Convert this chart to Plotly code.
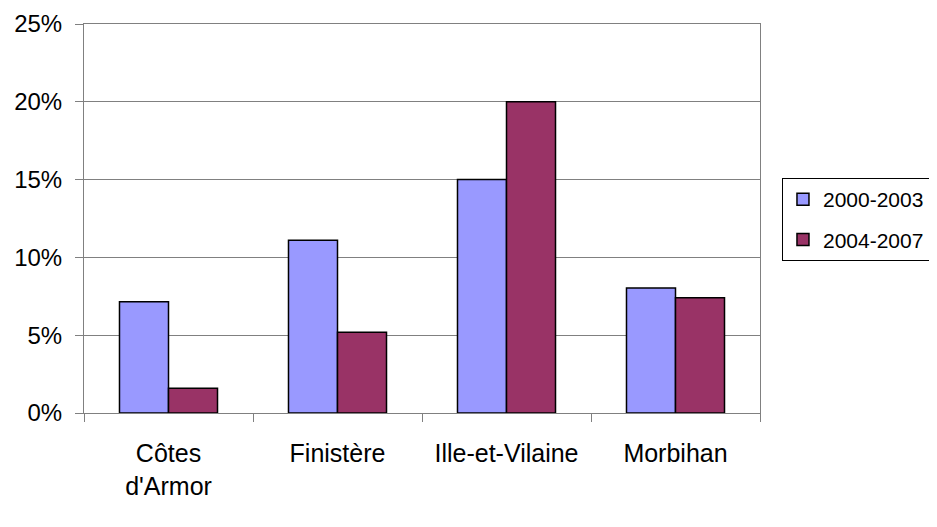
import plotly.graph_objects as go

departements = ["Côtes<br>d'Armor", "Finistère", "Ille-et-Vilaine", "Morbihan"]
periode_1 = [0.0715, 0.111, 0.150, 0.0803]   # 2000-2003
periode_2 = [0.0159, 0.0519, 0.200, 0.0741]  # 2004-2007

fig = go.Figure()
fig.add_trace(go.Bar(
    x=departements, y=periode_1, name="2000-2003", legendgroup="a",
    marker=dict(color="#9999FF", line=dict(color="black", width=1.5)),
))
fig.add_trace(go.Bar(
    x=departements, y=periode_2, name="2004-2007", legendgroup="b",
    marker=dict(color="#993366", line=dict(color="black", width=1.5)),
))

family = "Liberation Sans, Arial, sans-serif"
# the page body adds an 8px offset, so the figure is 8px smaller and the margins shifted
fig.update_layout(
    width=929, height=519,
    margin=dict(l=76, r=177, t=16, b=114, autoexpand=False),
    paper_bgcolor="white", plot_bgcolor="white",
    barmode="group", bargap=0.42, bargroupgap=0,
    font=dict(family=family, size=24, color="black"),
    showlegend=True,
    legend=dict(
        x=1.0325, y=0.604, xanchor="left", yanchor="top",
        bordercolor="black", borderwidth=1, bgcolor="white",
        font=dict(family=family, size=21, color="black"),
        tracegroupgap=10, itemwidth=30,
    ),
)
fig.update_yaxes(
    range=[0, 0.25], dtick=0.05, tickformat=".0%",
    showgrid=True, gridcolor="#808080", gridwidth=1,
    showline=True, linecolor="#808080", linewidth=1, mirror=True,
    ticks="outside", ticklen=8, tickcolor="#808080",
    ticklabelstandoff=8, automargin=False,
    zeroline=False,
)
fig.update_xaxes(
    showline=True, linecolor="#808080", linewidth=1, mirror=True,
    ticks="outside", ticklen=8, tickcolor="#808080", tickson="boundaries",
    tickfont=dict(size=25), ticklabelstandoff=18, automargin=False,
    showgrid=False,
)

fig.write_html("out.html")
